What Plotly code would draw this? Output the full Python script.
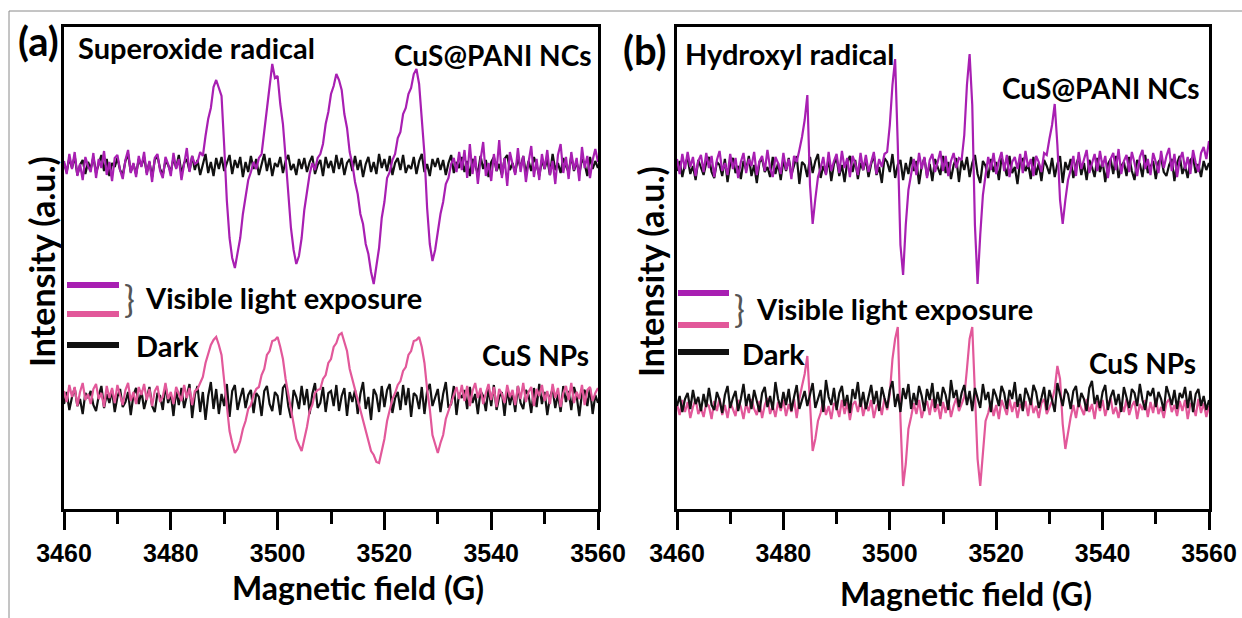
import plotly.graph_objects as go

# ---------------- data ----------------
FIELD_START = 3460.0   # G
FIELD_STEP = 0.5       # G per sample
X_TICKS = [3460, 3480, 3500, 3520, 3540, 3560]

# vertical stacking offsets of each spectrum (a.u.)
OFF_SUPEROXIDE_PANI_DARK = 343
OFF_SUPEROXIDE_PANI_LIGHT = 343
OFF_SUPEROXIDE_CUS_DARK = 109
OFF_SUPEROXIDE_CUS_LIGHT = 114
OFF_HYDROXYL_PANI_DARK = 341
OFF_HYDROXYL_PANI_LIGHT = 344
OFF_HYDROXYL_CUS_DARK = 107
OFF_HYDROXYL_CUS_LIGHT = 100

# (a) superoxide radical, CuS@PANI NCs, visible light
SUPEROXIDE_PANI_LIGHT = [
    5, -8, 12, -3, 14, -10, 2, -14, 9, 0,
    -6, 13, -12, 7, -2, 15, -9, 4, -15, 8,
    11, -4, -13, 6, 16, -7, 3, -11, 10, -1,
    14, -9, 5, -16, 8, 12, -5, -12, 9, 2,
    -10, 13, -3, 7, -14, 4, 18, -6, 10, 2,
    4, 14, 10, 30, 47, 58, 79, 86, 77, 70,
    20, -35, -72, -92, -102, -88, -72, -48, -32, -14,
    -6, 4, -3, 8, 12, 36, 58, 82, 102, 88,
    90, 62, 42, 8, -28, -62, -84, -98, -90, -72,
    -44, -28, -8, 3, -4, 8, 12, 22, 42, 54,
    72, 80, 92, 86, 76, 52, 38, 14, 2, -16,
    -28, -48, -58, -78, -88, -106, -118, -100, -82, -52,
    -36, -12, -6, 6, 12, 28, 34, 52, 58, 72,
    78, 92, 97, 82, 48, 12, -42, -78, -95, -84,
    -66, -48, -36, -18, -12, 2, 8, -6, 14, -4,
    16, -12, 22, -8, 10, -18, 6, 24, -10, 3,
    -15, 12, -5, 26, -12, 8, -20, 14, 2, -9,
    18, -6, 10, -16, 4, 20, -11, 7, -14, 12,
    -3, 16, -9, 5, -18, 11, 22, -7, 9, -13,
    14, -4, 8, -15, 19, -2, 10, -12, 6, 17,
    4,
]

# (a) superoxide radical, CuS@PANI NCs, dark
SUPEROXIDE_PANI_DARK = [
    3, -6, 8, -2, 10, -9, 1, 6, -8, 4,
    -3, 9, -7, 2, 11, -5, 7, -10, 3, -1,
    8, -4, -9, 5, 12, -6, 2, -8, 7, 0,
    9, -7, 4, -11, 6, 10, -3, -9, 5, 1,
    -6, 8, -2, 11, -8, 3, 7, -5, 10, -4,
    6, -9, 2, 12, -7, 4, -10, 8, -3, 9,
    -5, 3, 11, -8, 6, -2, 9, -11, 4, -6,
    10, -3, 7, -9, 2, 12, -5, 8, -10, 3,
    -1, 9, -7, 5, 11, -4, 2, -9, 7, -3,
    8, -6, 4, 10, -8, 1, 6, -10, 9, -2,
    5, -7, 11, -3, 8, -9, 3, 7, -5, 10,
    -4, 6, -11, 2, 9, -6, 4, -8, 12, -2,
    7, -5, 10, -9, 3, 8, -4, 11, -7, 1,
    -3, 9, -8, 5, 12, -6, 2, -10, 7, -1,
    8, -4, 6, -9, 3, 11, -7, 4, -2, 9,
    -6, 5, -10, 7, 1, -8, 10, -3, 6, -11,
    4, 9, -5, 2, -9, 7, 11, -4, 3, -7,
    8, -2, 10, -8, 5, -5, 9, 1, -10, 6,
    -3, 7, -9, 12, -4, 3, -7, 8, 0, -6,
    10, -5, 4, -8, 7, 2, -10, 9, -3, 5,
    -2,
]

# (a) superoxide radical, CuS NPs, visible light
SUPEROXIDE_CUS_LIGHT = [
    4, -7, 10, -2, 8, -11, 3, 12, -5, 1,
    -9, 6, 11, -4, 2, -12, 9, -3, 7, -8,
    10, -1, -10, 5, 12, -6, 3, -9, 8, 0,
    11, -5, 6, -11, 4, 9, -7, -2, 12, -4,
    3, -9, 8, 1, -6, 10, -3, 7, -10, 4,
    6, 12, 18, 32, 40, 50, 55, 58, 50, 40,
    14, -8, -36, -48, -58, -54, -46, -34, -26, -14,
    -10, 0, 6, 8, 20, 26, 40, 44, 54, 55,
    58, 48, 36, 16, 2, -16, -28, -44, -50, -56,
    -44, -32, -16, -10, 2, 5, 6, 16, 20, 32,
    36, 48, 52, 60, 62, 54, 44, 26, 16, 4,
    -4, -16, -24, -36, -44, -56, -60, -67, -68, -56,
    -44, -26, -16, -4, 2, 10, 14, 24, 28, 40,
    44, 54, 55, 58, 48, 32, 6, -14, -40, -50,
    -58, -48, -40, -24, -16, -6, 2, 8, -4, 10,
    -6, 9, -11, 4, 12, -3, 7, -9, 2, 11,
    -5, 8, -12, 6, 1, -8, 10, -2, 5, -10,
    9, -4, 12, -7, 3, 8, -11, 6, -1, 10,
    -6, 4, -9, 11, -3, 7, -12, 2, 9, -5,
    12, -8, 3, -4, 10, -10, 5, 8, -6, 2,
    7,
]

# (a) superoxide radical, CuS NPs, dark
SUPEROXIDE_CUS_DARK = [
    -4, 8, -10, 3, 12, -6, 1, -14, 7, 2,
    9, -5, -11, 4, 14, -8, 6, -3, 10, -12,
    3, 11, -7, -2, 8, -15, 5, 12, -4, 9,
    -9, 2, 13, -6, -12, 7, 4, -10, 15, -3,
    6, -16, 10, -5, 12, -8, 3, 16, -18, 5,
    14, -12, 8, -20, 4, 18, -9, 11, -14, 6,
    -6, 16, -17, 9, 15, -10, 2, 12, -8, 5,
    10, -13, 7, 3, -16, 9, 14, -4, -11, 8,
    4, -15, 12, 16, -6, -18, 10, 3, -9, 14,
    -5, 11, -14, 6, 17, -8, -3, 13, -12, 7,
    9, -6, 15, -11, 4, 12, -16, 8, -2, 10,
    -14, 6, 18, -9, 3, -20, 11, 5, -12, 14,
    -7, 10, 16, -13, 2, 8, -10, 15, -5, 12,
    -17, 7, 4, -9, 13, -14, 9, 16, -6, 3,
    11, -12, 6, 18, -8, -4, 14, -15, 7, 2,
    10, -9, 13, -3, 6, -14, 9, 4, -11, 12,
    -6, 15, -10, 3, 8, -16, 11, -5, 7, -12,
    14, -3, -9, 10, 5, -13, 12, -7, 16, -4,
    8, -15, 3, 11, -8, 6, -12, 14, -2, 9,
    -10, 13, 4, -16, 7, 10, -6, 12, -14, 5,
    -3,
]

# (b) hydroxyl radical, CuS@PANI NCs, visible light
HYDROXYL_PANI_LIGHT = [
    6, -9, 11, -4, 13, -2, 8, -11, 4, 10,
    -7, 12, -3, 9, -12, 5, 14, -6, 2, -10,
    11, -4, 7, -13, 3, 12, -8, 6, -1, 13,
    -10, 4, 9, -6, 15, -3, -12, 8, 2, -9,
    12, -5, 6, -14, 9, 3, 15, 28, 45, 70,
    -20, -59, -34, -12, -3, 8, -10, 13, -6, 4,
    11, -8, 14, -3, 7, -12, 9, 2, -10, 12,
    -5, 10, -7, 4, 13, -9, 6, -2, 11, 13,
    40, 80, 106, 20, -80, -110, -60, -25, -8, 6,
    -10, 12, -4, 8, -13, 5, 11, -7, 3, 14,
    -6, 9, -11, 4, 12, -3, 7, 5, 30, 80,
    111, 60, -60, -119, -70, -30, -10, 8, -5, 12,
    -9, 4, 13, -6, 10, -12, 3, 8, -4, 11,
    -8, 14, -2, 6, -11, 9, 3, -7, 12, 10,
    26, 40, 61, 20, -35, -59, -35, -15, -5, 9,
    -11, 13, -4, 7, 15, -8, 3, 11, -6, 14,
    -2, 9, -13, 6, 12, -5, 16, -9, 4, 10,
    -7, 13, 2, -11, 8, 15, -4, 6, -10, 12,
    3, -8, 14, -3, 9, 17, -6, 11, -12, 5,
    13, -4, 8, -9, 15, 2, -7, 12, 18, 6,
    24,
]

# (b) hydroxyl radical, CuS@PANI NCs, dark
HYDROXYL_PANI_DARK = [
    -3, 7, -9, 4, 10, -6, 2, -12, 8, 1,
    -7, 5, 11, -4, -10, 6, 3, -8, 9, -14,
    4, 10, -5, 2, -11, 7, -2, 12, -8, 3,
    -15, 6, 9, -4, 1, -9, 11, -6, 5, -12,
    8, -3, 10, -7, 4, 12, -16, 6, 3, -9,
    11, -5, 7, 14, -10, 2, -6, 9, -13, 4,
    10, -8, 3, -14, 6, 12, -4, 8, -11, 5,
    -2, 9, -9, 4, 13, -7, 1, -15, 10, 6,
    -4, 14, -10, 3, 8, -12, 5, -6, 11, -3,
    7, -16, 2, 10, -8, 4, -13, 9, 1, -7,
    12, -5, 6, -11, 3, 10, -14, 8, -2, 11,
    -9, 5, 13, -6, -15, 7, 2, -10, 9, -4,
    6, -12, 10, 3, -8, 12, -5, 1, -16, 7,
    9, -3, 4, -11, 11, -7, 5, -13, 8, 2,
    -6, 10, -9, 4, 12, -15, 6, -2, 9, -10,
    3, 11, -7, 5, -12, 8, 1, -9, 10, -4,
    7, -14, 4, 9, -6, 12, -10, 2, 6, -8,
    11, -3, -12, 8, 4, -9, 13, -5, 1, 7,
    -11, 6, 10, -4, -8, 3, 9, -13, 5, 12,
    -6, 2, -10, 8, 11, -5, 4, -9, 7, -2,
    5,
]

# (b) hydroxyl radical, CuS NPs, visible light
HYDROXYL_CUS_LIGHT = [
    5, -6, 9, -3, 7, -9, 2, 10, -5, 1,
    -8, 6, 3, -10, 8, -2, 11, -6, 4, -9,
    7, -1, -7, 9, 2, -10, 6, -4, 10, 0,
    -6, 8, -9, 4, 11, -5, 3, -8, 7, -2,
    9, -7, 5, -3, 10, -9, 10, 23, 35, 53,
    5, -42, -30, -12, -4, 8, -6, 3, -10, 6,
    2, -8, 9, -5, 7, -11, 4, 8, -3, 10,
    -7, 5, -2, 9, -9, 3, 7, -6, 11, -1,
    15, 50, 70, 82, -10, -77, -55, -20, -8, 6,
    -5, 9, -9, 2, 8, -6, 10, -3, 5, -10,
    7, -4, 9, -8, 3, 11, -2, 6, 12, 40,
    70, 82, 20, -50, -77, -40, -12, -4, 8, -7,
    4, -10, 9, 2, -6, 10, -3, 7, -9, 5,
    -1, 8, -7, 11, -4, 3, -9, 6, 10, -5,
    2, 8, 20, 43, 30, -15, -40, -22, -8, 4,
    -9, 7, 1, -6, 10, -3, 5, -10, 8, -2,
    9, -7, 4, 11, -5, 2, -9, 6, -3, 10,
    -6, 3, 8, -10, 5, -1, 9, -8, 7, -4,
    11, -5, 2, -9, 6, 10, -3, 4, -7, 8,
    -2, 9, -10, 5, 3, -7, 10, -4, 6, -8,
    3,
]

# (b) hydroxyl radical, CuS NPs, dark
HYDROXYL_CUS_DARK = [
    -4, 6, -10, 3, 9, -7, 12, -2, 5, -9,
    8, -5, 14, -3, -8, 10, 2, -11, 7, 16,
    -6, 4, 11, -9, 3, 18, -4, 8, -7, 12,
    1, -10, 9, 15, -5, 6, -8, 20, 3, -6,
    10, -3, 13, -9, 5, 17, -7, 2, 11, -4,
    8, 19, -6, 4, 12, -10, 22, 5, -3, 14,
    -8, 9, 16, -4, 7, -11, 13, 3, 20, -5,
    10, -7, 6, 17, -2, 11, -9, 15, 4, -6,
    12, 21, -5, 8, -10, 14, 3, 18, -7, 9,
    -3, 16, 6, -9, 13, 2, 19, -6, 10, -4,
    15, 7, -8, 22, 4, 12, -5, 9, 17, -3,
    11, -9, 14, 5, -6, 18, 2, 10, -10, 13,
    6, -4, 16, 9, -7, 12, 3, 20, -5, 8,
    -9, 14, 7, -3, 17, 10, -6, 4, 15, -8,
    12, 2, -10, 19, 6, -4, 13, 8, -7, 11,
    16, -5, 9, 3, -9, 14, 21, -2, 7, -6,
    10, 17, -8, 5, 12, -3, 8, -10, 15, 4,
    -6, 13, 9, -4, 18, 2, -8, 11, 6, 14,
    -5, 10, 3, -9, 16, 7, -3, 12, -7, 9,
    4, 15, -6, 11, -10, 8, 13, -4, 6, -8,
    2,
]

# ---------------- styling ----------------
W, H = 1242, 618
MAGENTA = "#A81FB2"
PINK = "#E2589A"
BLACK = "#111111"
TXT_FONT = "Lato"
TICK_FONT = "Liberation Sans"


def px_x(p):
    return p / W


def px_y(p):
    return 1 - p / H


def field_of(series):
    return [FIELD_START + FIELD_STEP * i for i in range(len(series))]


fig = go.Figure()

panels = [
    ("x", "y", [
        (SUPEROXIDE_PANI_DARK, OFF_SUPEROXIDE_PANI_DARK, BLACK),
        (SUPEROXIDE_PANI_LIGHT, OFF_SUPEROXIDE_PANI_LIGHT, MAGENTA),
        (SUPEROXIDE_CUS_DARK, OFF_SUPEROXIDE_CUS_DARK, BLACK),
        (SUPEROXIDE_CUS_LIGHT, OFF_SUPEROXIDE_CUS_LIGHT, PINK),
    ]),
    ("x2", "y2", [
        (HYDROXYL_PANI_DARK, OFF_HYDROXYL_PANI_DARK, BLACK),
        (HYDROXYL_PANI_LIGHT, OFF_HYDROXYL_PANI_LIGHT, MAGENTA),
        (HYDROXYL_CUS_LIGHT, OFF_HYDROXYL_CUS_LIGHT, PINK),
        (HYDROXYL_CUS_DARK, OFF_HYDROXYL_CUS_DARK, BLACK),
    ]),
]

for xa, ya, traces in panels:
    for vals, off, col in traces:
        fig.add_trace(go.Scatter(
            x=field_of(vals), y=[off + v for v in vals], mode="lines",
            line=dict(color=col, width=2.2), xaxis=xa, yaxis=ya,
            showlegend=False, hoverinfo="skip"))

ydom = [px_y(509), px_y(27)]
common_x = dict(
    range=[3460, 3560], tickvals=X_TICKS, ticks="outside", ticklen=18, tickwidth=3,
    tickcolor="black", showline=True, linewidth=3, linecolor="black", mirror=True,
    showgrid=False, zeroline=False, automargin=False,
    tickfont=dict(family=TICK_FONT, size=25, color="black", weight="bold"),
    ticklabelstandoff=2,
    minor=dict(dtick=10, tick0=3460, ticks="outside", ticklen=12, tickwidth=3,
               tickcolor="black", showgrid=False),
)
common_y = dict(
    range=[0, 482], showticklabels=False, ticks="", showline=True, linewidth=3,
    linecolor="black", mirror=True, showgrid=False, zeroline=False, domain=ydom,
    automargin=False,
)

fig.update_layout(
    width=W, height=H, margin=dict(l=0, r=0, t=0, b=0, autoexpand=False),
    paper_bgcolor="white", plot_bgcolor="white", showlegend=False,
    xaxis=dict(domain=[px_x(64), px_x(598)], anchor="y", **common_x),
    yaxis=dict(anchor="x", **common_y),
    xaxis2=dict(domain=[px_x(677), px_x(1209)], anchor="y2", **common_x),
    yaxis2=dict(anchor="x2", **common_y),
)

shapes = []
# outer thin frame of the figure
shapes.append(dict(type="rect", xref="paper", yref="paper",
                   x0=px_x(9), x1=px_x(1260), y0=px_y(640), y1=px_y(11),
                   line=dict(color="#8a8a8a", width=1)))
# legend swatches
for x0, x1, ys in [(67, 119, (285, 314, 345)), (678, 729, (293, 325, 352))]:
    for yy, col in zip(ys, (MAGENTA, PINK, BLACK)):
        shapes.append(dict(type="line", xref="paper", yref="paper",
                           x0=px_x(x0), x1=px_x(x1), y0=px_y(yy), y1=px_y(yy),
                           line=dict(color=col, width=6)))
fig.update_layout(shapes=shapes)


def txt(text, x, y, size, xanchor="center", yanchor="middle", angle=0,
        weight="bold", color="black", family=TXT_FONT):
    fig.add_annotation(text=text, x=px_x(x), y=px_y(y), xref="paper", yref="paper",
                       showarrow=False, xanchor=xanchor, yanchor=yanchor,
                       textangle=angle,
                       font=dict(family=family, size=size, color=color, weight=weight))


# panel (a)
txt("(a)", 38, 41, 40)
txt("Superoxide radical", 76, 48, 29, xanchor="left")
txt("CuS@PANI NCs", 593, 55, 28, xanchor="right")
txt("}", 129, 299, 36, weight="normal", color="#555555")
txt("Visible light exposure", 143, 298, 29, xanchor="left")
txt("Dark", 134, 345, 29, xanchor="left")
txt("CuS NPs", 591, 355, 28, xanchor="right")
txt("Magnetic field (G)", 358, 587, 32)
txt("Intensity (a.u.)", 41, 262, 34, angle=-90)

# panel (b)
txt("(b)", 645, 50, 40)
txt("Hydroxyl radical", 683, 53, 29, xanchor="left")
txt("CuS@PANI NCs", 1201, 88, 28, xanchor="right")
txt("}", 739, 309, 36, weight="normal", color="#555555")
txt("Visible light exposure", 754, 308, 29, xanchor="left")
txt("Dark", 740, 353, 29, xanchor="left")
txt("CuS NPs", 1198, 363, 28, xanchor="right")
txt("Magnetic field (G)", 966, 593, 32)
txt("Intensity (a.u.)", 650, 272, 34, angle=-90)

# remove the browser's default page margin so the figure fills the window exactly
fig.write_html("out.html",
               config={"displayModeBar": False, "staticPlot": True},
               post_script="document.body.style.margin='0';"
                           "document.body.style.overflow='hidden';")
